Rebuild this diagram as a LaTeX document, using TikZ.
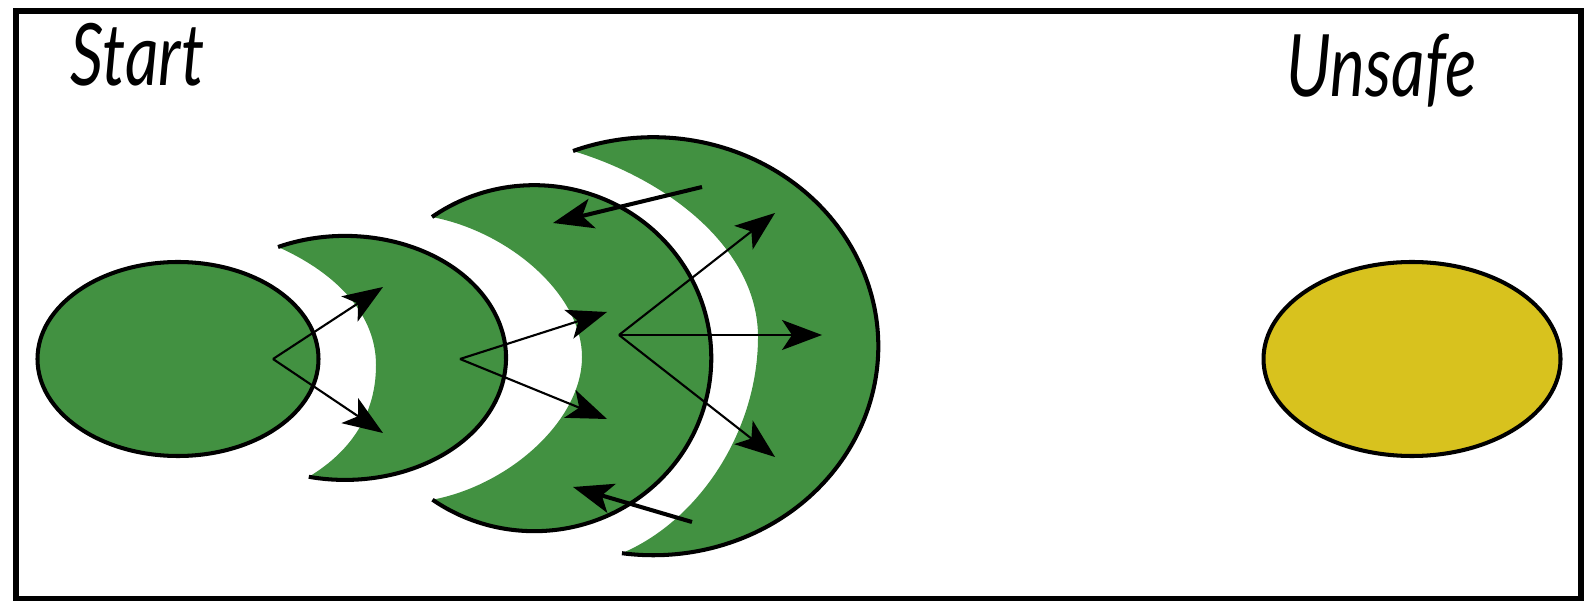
\documentclass[tikz,border=0pt]{standalone}
\usepackage{fontspec}
\usepackage{tikz}
\usetikzlibrary{shapes.geometric, arrows.meta}
\newfontfamily\tagfont[FakeStretch=0.76]{Lato}
\definecolor{safegreen}{RGB}{66,145,65}
\definecolor{badyellow}{RGB}{216,194,30}

\begin{document}
\begin{tikzpicture}[x=0.1mm, y=0.1mm,
    region/.style={ellipse, draw=black, line width=1.15pt, inner sep=0pt},
    rim/.style={draw=black, line width=1.15pt},
    tag/.style={anchor=base west, inner sep=0pt, font=\tagfont\itshape\fontsize{24.5}{28}\selectfont},
    flow/.style={-{Stealth[length=4mm, width=3mm, inset=1mm]}, line width=0.6pt},
    back/.style={flow, line width=1.15pt}]
  \useasboundingbox (0,0) rectangle (1590,600);
  \draw[line width=1.5pt] (16,1) rectangle (1581,589);
  \node[tag] (starttag) at (70,514) {Start};
  \node[tag] (unsafetag) at (1286,503) {Unsafe};
  \node[region, fill=safegreen, minimum width=28.1mm, minimum height=19.4mm] (start) at (178,241) {};
  \node[region, fill=badyellow, minimum width=29.7mm, minimum height=19.4mm] (unsafe) at (1412,241) {};
  \fill[safegreen] (278,353) arc[start angle=114.6, end angle=-103, x radius=161, y radius=122]
    .. controls (345,145) and (376,180) .. (376,235) .. controls (376,290) and (330,330) .. (278,353) -- cycle;
  \draw[rim] (278,353) arc[start angle=114.6, end angle=-103, x radius=161, y radius=122];
  \fill[safegreen] (432,383) arc[start angle=125.3, end angle=-125.1, x radius=177, y radius=173]
    .. controls (510,115) and (582,180) .. (582,243) .. controls (582,305) and (510,368) .. (432,383) -- cycle;
  \draw[rim] (432,383) arc[start angle=125.3, end angle=-125.1, x radius=177, y radius=173];
  \fill[safegreen] (573,449) arc[start angle=110.9, end angle=-98, x radius=225, y radius=209]
    .. controls (700,80) and (758,170) .. (758,263) .. controls (758,350) and (670,420) .. (573,449) -- cycle;
  \draw[rim] (573,449) arc[start angle=110.9, end angle=-98, x radius=225, y radius=209];
  \coordinate (s1) at (273,241);
  \coordinate (s2) at (460,241);
  \coordinate (s3) at (619,265);
  \coordinate (t1a) at (383,313);
  \coordinate (t1b) at (383,167);
  \coordinate (t2a) at (607,288);
  \coordinate (t2b) at (607,181);
  \coordinate (t3a) at (775,387);
  \coordinate (t3b) at (822,265);
  \coordinate (t3c) at (775,143);
  \coordinate (b1) at (702,413);
  \coordinate (e1) at (553,377);
  \coordinate (b2) at (692,78);
  \coordinate (e2) at (573,113);
  \draw[flow] (s1) -- (t1a);
  \draw[flow] (s1) -- (t1b);
  \draw[flow] (s2) -- (t2a);
  \draw[flow] (s2) -- (t2b);
  \draw[flow] (s3) -- (t3a);
  \draw[flow] (s3) -- (t3b);
  \draw[flow] (s3) -- (t3c);
  \draw[back] (b1) -- (e1);
  \draw[back] (b2) -- (e2);
\end{tikzpicture}
\end{document}
